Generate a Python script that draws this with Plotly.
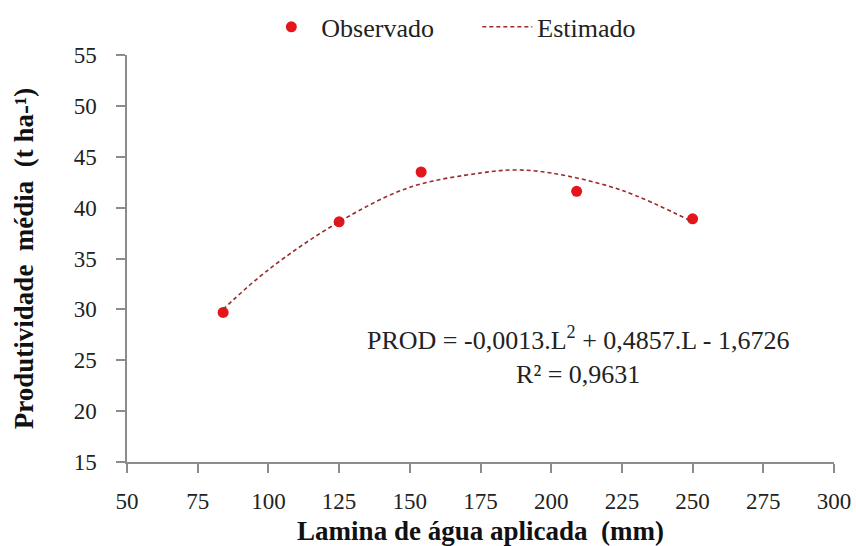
import plotly.graph_objects as go

# Observed data
lamina_obs = [84, 125, 154, 209, 250]
prod_obs = [29.7, 38.6, 43.5, 41.6, 38.9]

# Estimated curve
lamina_est = [84, 100, 125, 150, 175, 187, 200, 225, 250]
prod_est = [30.0, 33.9, 38.6, 42.0, 43.4, 43.7, 43.4, 41.7, 38.6]

x_ticks = [50, 75, 100, 125, 150, 175, 200, 225, 250, 275, 300]
y_ticks = [15, 20, 25, 30, 35, 40, 45, 50, 55]

FONT = "Liberation Serif"

fig = go.Figure()
fig.add_trace(go.Scatter(
    x=lamina_obs, y=prod_obs, mode="markers", name="Observado",
    marker=dict(color="#e4161b", size=11, line=dict(width=0)),
))
fig.add_trace(go.Scatter(
    x=lamina_est, y=prod_est, mode="lines", name="Estimado",
    line=dict(color="#9b2a2a", width=1.6, dash="4px,3px", shape="spline"),
))

fig.add_annotation(
    x=209.5, y=25.5, xref="x", yref="y",
    text="PROD = -0,0013.L<sup>2</sup> + 0,4857.L - 1,6726<br>R² = 0,9631",
    showarrow=False, align="center",
    font=dict(family=FONT, size=26, color="#222"),
)

axis_common = dict(
    showline=True, linecolor="#8c8c8c", linewidth=1.5,
    ticks="outside", ticklen=9, tickcolor="#8c8c8c", tickwidth=1.5,
    showgrid=False, zeroline=False, automargin=False,
    tickfont=dict(family=FONT, size=23, color="#222"),
)

fig.update_xaxes(
    range=[50, 300], tickvals=x_ticks, ticktext=[str(v) for v in x_ticks],
    ticklabelstandoff=9,
    title=dict(text="<b>Lamina de água aplicada  (mm)</b>",
               font=dict(family=FONT, size=27, color="#111"), standoff=10),
    **axis_common,
)
fig.update_yaxes(
    range=[15, 55], tickvals=y_ticks, ticktext=[str(v) for v in y_ticks],
    ticklabelstandoff=15,
    title=dict(text="<b>Produtividade  média  (t ha-¹)</b>",
               font=dict(family=FONT, size=27, color="#111"), standoff=32),
    **axis_common,
)

fig.update_layout(
    width=856, height=546,
    margin=dict(l=126.5, r=22, t=55, b=84.3, autoexpand=False),
    plot_bgcolor="white", paper_bgcolor="white",
    showlegend=True,
    legend=dict(orientation="h", x=0.19, xanchor="left", y=1.069, yanchor="middle",
                font=dict(family=FONT, size=26, color="#222"),
                entrywidth=151, entrywidthmode="pixels",
                itemwidth=50, bgcolor="rgba(0,0,0,0)"),
)

fig.write_html("out.html", config={"displayModeBar": False},
               post_script="document.body.style.margin='0px';")
